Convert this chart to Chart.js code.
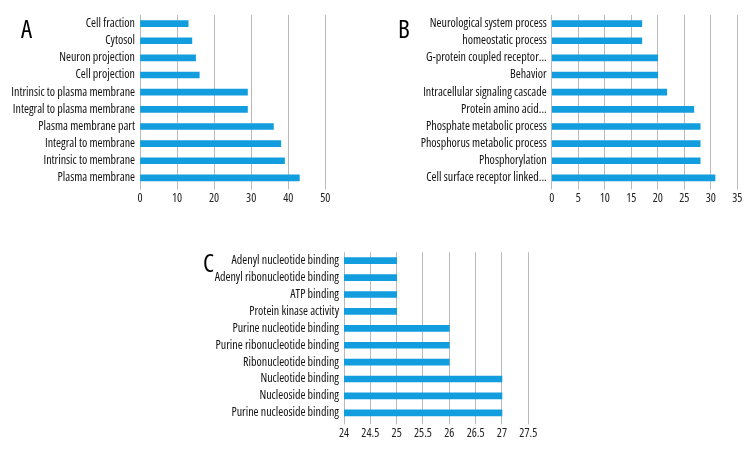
<!DOCTYPE html>
<html>
<head>
<meta charset="utf-8">
<script src="https://cdn.jsdelivr.net/npm/chart.js@4/dist/chart.umd.min.js"></script>
<style>
  html, body { margin: 0; padding: 0; background: #fff; }
  body { width: 756px; height: 456px; position: relative; overflow: hidden; }
  .box { position: absolute; }
  .tag { position: absolute; font-family: "Open Sans", sans-serif; font-stretch: condensed; font-size: 25px; color: #000; line-height: 1; }
</style>
</head>
<body>
<div class="box" style="left:0;top:0;width:345px;height:210px;"><canvas id="cA"></canvas></div>
<div class="box" style="left:380px;top:0;width:376px;height:210px;"><canvas id="cB"></canvas></div>
<div class="box" style="left:200px;top:240px;width:350px;height:215px;"><canvas id="cC"></canvas></div>
<div class="tag" style="left:21px;top:16px;">A</div>
<div class="tag" style="left:398px;top:16px;">B</div>
<div class="tag" style="left:203px;top:250px;">C</div>
<script>
// Panel A: cellular component
const categoriesA = ["Cell fraction", "Cytosol", "Neuron projection", "Cell projection",
  "Intrinsic to plasma membrane", "Integral to plasma membrane", "Plasma membrane part",
  "Integral to membrane", "Intrinsic to membrane", "Plasma membrane"];
const valuesA = [13, 14, 15, 16, 29, 29, 36, 38, 39, 43];
const ticksA = { min: 0, max: 50, step: 10 };

// Panel B: biological process
const categoriesB = ["Neurological system process", "homeostatic process", "G-protein coupled receptor...",
  "Behavior", "Intracellular signaling cascade", "Protein amino acid...", "Phosphate metabolic process",
  "Phosphorus metabolic process", "Phosphorylation", "Cell surface receptor linked..."];
const valuesB = [17, 17, 20, 20, 21.7, 26.8, 28, 28, 28, 30.8];
const ticksB = { min: 0, max: 35, step: 5 };

// Panel C: molecular function
const categoriesC = ["Adenyl nucleotide binding", "Adenyl ribonucleotide binding", "ATP binding",
  "Protein kinase activity", "Purine nucleotide binding", "Purine ribonucleotide binding",
  "Ribonucleotide binding", "Nucleotide binding", "Nucleoside binding", "Purine nucleoside binding"];
const valuesC = [25, 25, 25, 25, 26, 26, 26, 27, 27, 27];
const ticksC = { min: 24, max: 27.5, step: 0.5 };

const FONT = { family: "'Open Sans', sans-serif", size: 12, weight: "condensed" };
const BAR = "#129ddf";
const GRID = "#b9b9b9";

function makeChart(id, cats, vals, tk, yWidth, padTop, padRight, xHeight) {
  new Chart(document.getElementById(id), {
    type: "bar",
    data: { labels: cats, datasets: [{ data: vals, backgroundColor: BAR, borderWidth: 0, barThickness: 6 }] },
    options: {
      indexAxis: "y",
      responsive: true,
      maintainAspectRatio: false,
      animation: false,
      layout: { padding: { top: padTop, right: padRight, left: 0, bottom: 0 } },
      plugins: { legend: { display: false }, tooltip: { enabled: false } },
      scales: {
        x: {
          min: tk.min, max: tk.max,
          afterBuildTicks: (s) => {
            const t = [];
            for (let v = tk.min; v <= tk.max + 1e-9; v += tk.step) t.push({ value: Math.round(v * 100) / 100 });
            s.ticks = t;
          },
          ticks: { color: "#222", font: FONT, padding: 2, maxRotation: 0, autoSkip: false,
                   callback: (v) => String(Math.round(v * 100) / 100) },
          grid: { color: GRID, lineWidth: 1, drawTicks: true, tickLength: 3, tickColor: GRID },
          border: { display: false },
          afterFit: (s) => { s.height = xHeight; }
        },
        y: {
          ticks: { color: "#111", font: FONT, padding: 5, autoSkip: false },
          grid: { display: false, drawTicks: false },
          border: { display: false },
          afterFit: (s) => { s.width = yWidth; }
        }
      }
    }
  });
}

makeChart("cA", categoriesA, valuesA, ticksA, 140, 15, 19.7, 23.5);
makeChart("cB", categoriesB, valuesB, ticksB, 171.7, 15, 18.7, 23.5);
makeChart("cC", categoriesC, valuesC, ticksC, 144, 9.7, 21.7, 33.7);
</script>
</body>
</html>
